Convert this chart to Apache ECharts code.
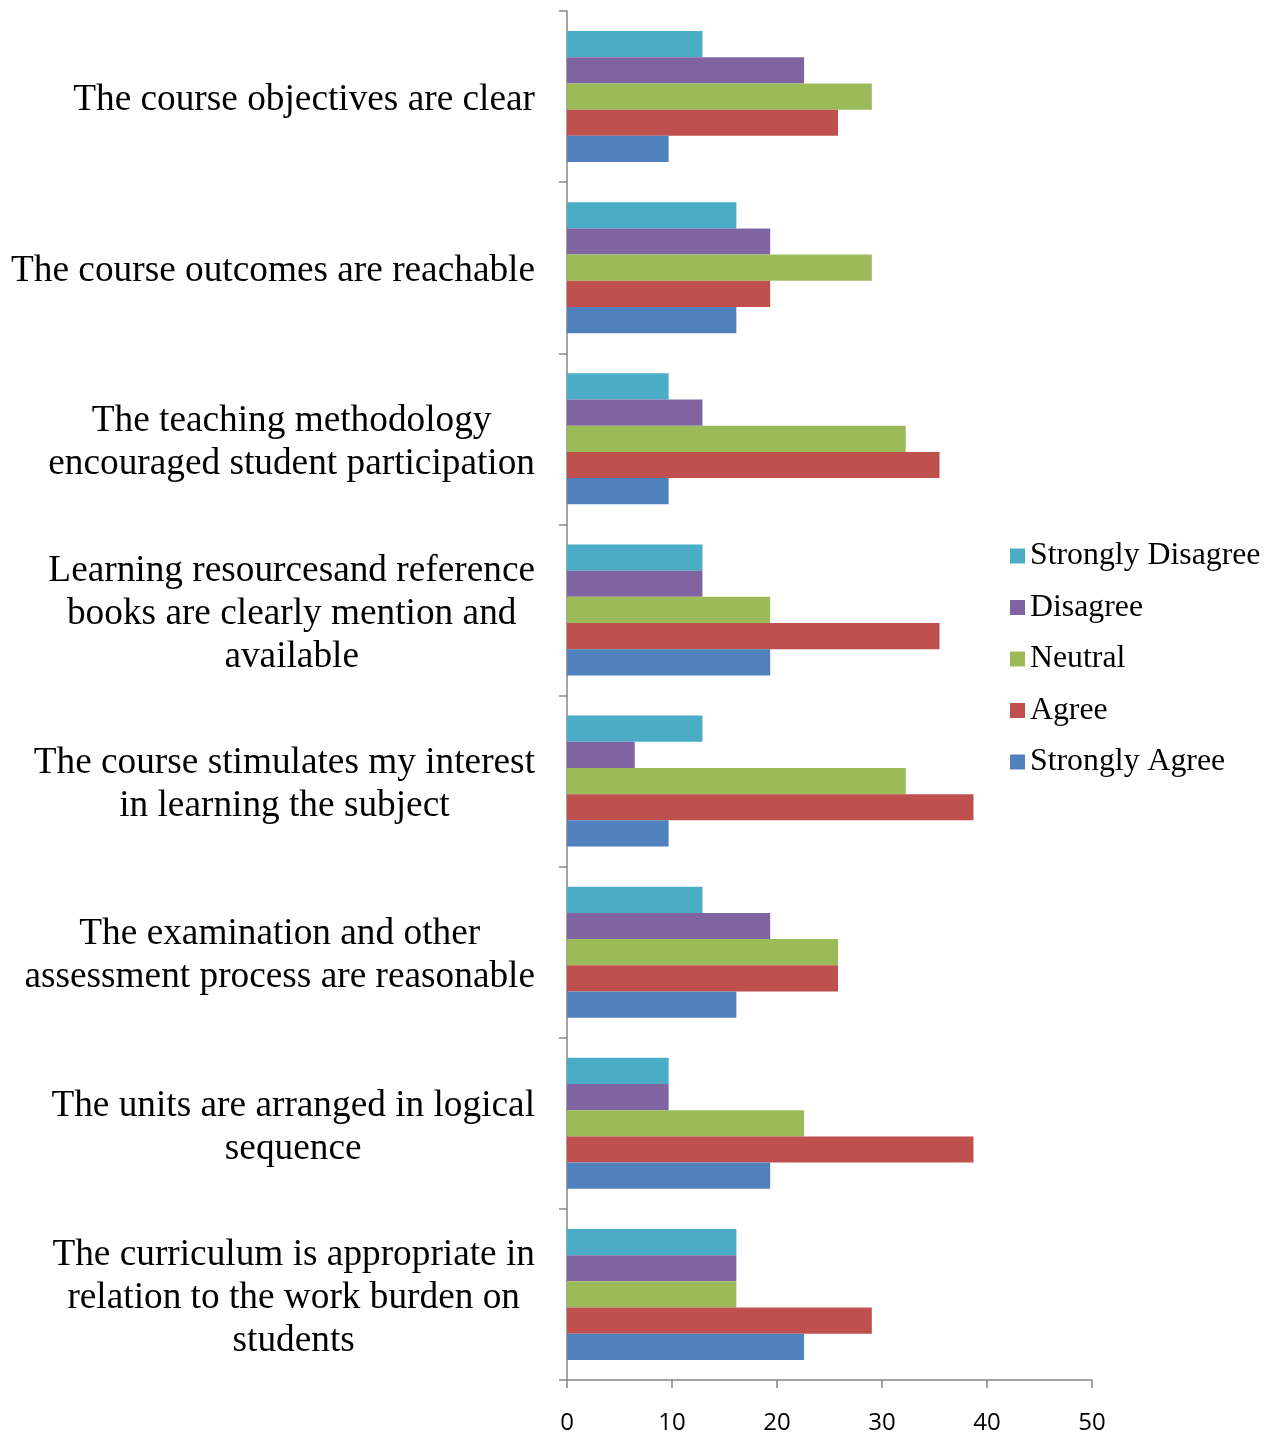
<!DOCTYPE html>
<html>
<head>
<meta charset="utf-8">
<script src="https://cdn.jsdelivr.net/npm/echarts@6/dist/echarts.min.js"></script>
<style>html,body{margin:0;padding:0;background:#fff;}#c{width:1276px;height:1435px;}</style>
</head>
<body>
<div id="c"></div>
<script>
const categories = [
  "The course objectives are clear",
  "The course outcomes are reachable",
  "The teaching methodology\nencouraged student participation",
  "Learning resourcesand reference\nbooks are clearly mention and\navailable",
  "The course stimulates my interest\nin learning the subject",
  "The examination and other\nassessment process are reasonable",
  "The units are arranged in logical\nsequence",
  "The curriculum is appropriate in\nrelation to the work burden on\nstudents"
];
const stronglyDisagree = [12.9, 16.13, 9.68, 12.9, 12.9, 12.9, 9.68, 16.13];
const disagree = [22.58, 19.35, 12.9, 12.9, 6.45, 19.35, 9.68, 16.13];
const neutral = [29.03, 29.03, 32.26, 19.35, 32.26, 25.81, 22.58, 16.13];
const agree = [25.81, 19.35, 35.48, 35.48, 38.71, 25.81, 38.71, 29.03];
const stronglyAgree = [9.68, 16.13, 9.68, 19.35, 9.68, 16.13, 19.35, 22.58];
const legendOrder = ["Strongly Disagree", "Disagree", "Neutral", "Agree", "Strongly Agree"];

const serif = '"Liberation Serif", "Times New Roman", serif';
const axisGray = '#868686';

const chart = echarts.init(document.getElementById('c'), null, {renderer: 'canvas'});
const seriesDefs = [
  {name: "Strongly Disagree", data: stronglyDisagree, color: '#4BACC6'},
  {name: "Disagree", data: disagree, color: '#8064A2'},
  {name: "Neutral", data: neutral, color: '#9BBB59'},
  {name: "Agree", data: agree, color: '#C0504D'},
  {name: "Strongly Agree", data: stronglyAgree, color: '#4F81BD'}
];
chart.setOption({
  animation: false,
  backgroundColor: '#fff',
  grid: {left: 567, right: 184, top: 11, bottom: 55, containLabel: false},
  legend: {
    orient: 'vertical',
    left: 1005,
    top: 533,
    data: legendOrder,
    icon: 'rect',
    itemWidth: 15,
    itemHeight: 15,
    itemGap: 15.5,
    textStyle: {fontFamily: serif, fontSize: 31.8, color: '#000', lineHeight: 36}
  },
  xAxis: {
    type: 'value',
    min: 0, max: 50, interval: 10,
    splitLine: {show: false},
    axisLine: {show: true, lineStyle: {color: axisGray, width: 1.5}},
    axisTick: {show: true, length: 8, lineStyle: {color: axisGray, width: 1.5}},
    axisLabel: {fontFamily: '"Open Sans", "Liberation Sans", sans-serif', fontSize: 24, color: '#000', margin: 31}
  },
  yAxis: {
    type: 'category',
    inverse: true,
    data: categories,
    axisLine: {show: true, lineStyle: {color: axisGray, width: 1.5}},
    axisTick: {show: true, length: 8, lineStyle: {color: axisGray, width: 1.5}},
    axisLabel: {
      margin: 32,
      color: '#000',
      fontFamily: serif,
      fontSize: 37.3,
      lineHeight: 43,
      padding: [8, 0, 0, 0],
      formatter: function (v) {
        return v.split('\n').map(function (l) { return '{a|' + l + '}'; }).join('\n');
      },
      rich: {a: {align: 'center', fontFamily: serif, fontSize: 37.3, lineHeight: 43, color: '#000'}}
    }
  },
  series: seriesDefs.map(function (s) {
    return {
      name: s.name,
      type: 'bar',
      data: s.data,
      barGap: '0%',
      barCategoryGap: '23.5%',
      itemStyle: {color: s.color},
      emphasis: {disabled: true}
    };
  })
});
</script>
</body>
</html>
